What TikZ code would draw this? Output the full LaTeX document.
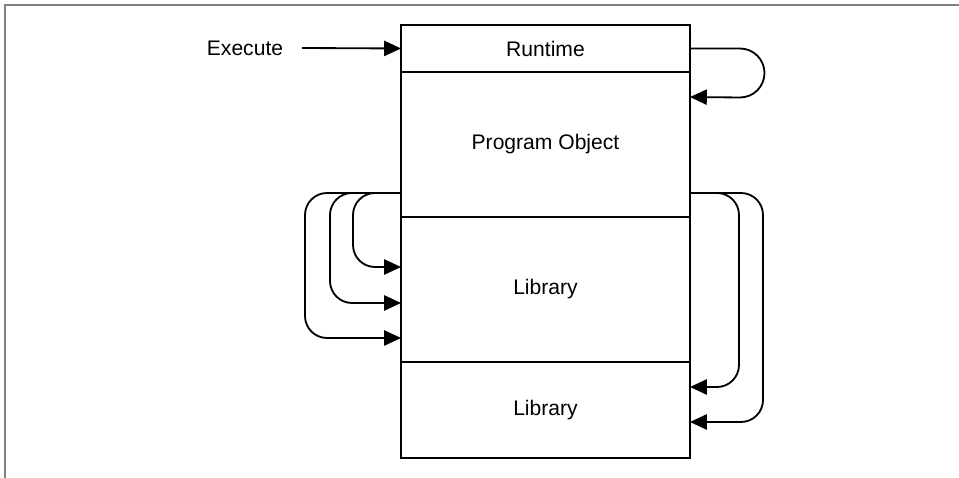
\documentclass[tikz,border=0pt]{standalone}
\usepackage{fontspec}
\setmainfont{Liberation Sans}
\usetikzlibrary{positioning,arrows.meta}

\begin{document}
\begin{tikzpicture}[every node/.style={font=\fontsize{15}{18}\selectfont},
  layer/.style={draw,line width=1.4pt,minimum width=7.225cm,inner sep=0pt,outer sep=0pt},
  link/.style={line width=1.3pt,-{Triangle[length=4.2mm,width=3.8mm]}}]
  \useasboundingbox (0,0) rectangle (23.975,11.95);
  \draw[gray,line width=1pt] (0.125,0) -- (0.125,11.825) -- (23.975,11.825);
  % stack of layers
  \node[layer,minimum height=1.175cm] (run) at (13.6375,10.7375) {Runtime};
  \node[layer,minimum height=3.625cm,below=0pt of run] (prog) {Program Object};
  \node[layer,minimum height=3.625cm,below=0pt of prog] (lib1) {Library};
  \node[layer,minimum height=2.4cm,below=0pt of lib1] (lib2) {Library};
  \node (exec) at (6.125,10.75) {Execute};
  \draw[link] ([xshift=0.35cm]exec.east) -- (run.west);
  \draw[link] (run.east) -- ++(1.25,0) arc[start angle=90,end angle=-90,radius=0.6125]
    -- ([yshift=-0.625cm]prog.north east);
  % left loops
  \draw[link,rounded corners=0.55cm] ([yshift=0.6cm]prog.south west) -- ++(-1.2,0) |- ([yshift=0.5625cm]lib1.west);
  \draw[link,rounded corners=0.55cm] ([yshift=0.6cm]prog.south west) -- ++(-1.775,0) |- ([yshift=-0.3375cm]lib1.west);
  \draw[link,rounded corners=0.55cm] ([yshift=0.6cm]prog.south west) -- ++(-2.4,0) |- ([yshift=-1.2125cm]lib1.west);
  % right loops
  \draw[link,rounded corners=0.55cm] ([yshift=0.6cm]prog.south east) -- ++(1.225,0) |- ([yshift=0.575cm]lib2.east);
  \draw[link,rounded corners=0.55cm] ([yshift=0.6cm]prog.south east) -- ++(1.825,0) |- ([yshift=-0.3cm]lib2.east);
\end{tikzpicture}
\end{document}
